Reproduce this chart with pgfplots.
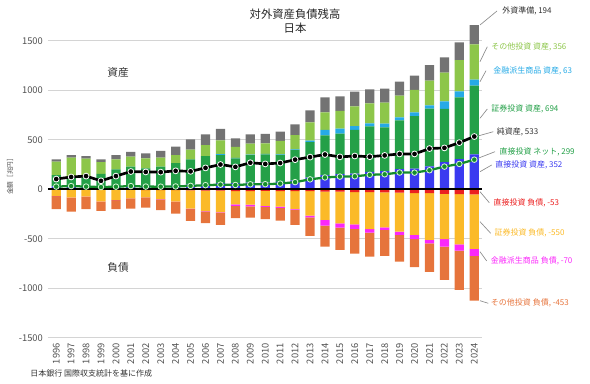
\documentclass[border=0pt]{standalone}
\usepackage{pgfplots}
\usepackage{pgfplotstable}
\pgfplotsset{compat=1.18}
\usepackage{fontspec}
\setmainfont{Noto Sans CJK JP}
\definecolor{cRes}{RGB}{115,115,115}
\definecolor{cOthA}{RGB}{141,198,74}
\definecolor{cDerA}{RGB}{38,170,230}
\definecolor{cSecA}{RGB}{36,160,72}
\definecolor{cDIA}{RGB}{58,58,240}
\definecolor{cDIL}{RGB}{235,32,32}
\definecolor{cSecL}{RGB}{251,186,40}
\definecolor{cDerL}{RGB}{250,40,250}
\definecolor{cOthL}{RGB}{230,116,60}
\definecolor{cNetDI}{RGB}{20,140,45}
\definecolor{cGrid}{RGB}{212,212,212}
\definecolor{cTick}{RGB}{80,80,80}
\definecolor{cLead}{RGB}{140,140,140}

\pgfplotstableread{
year DIA SecA DerA OthA Res DIL SecL DerL OthL Net DINet
1996 30 114 0 135 24 -3 -64 -2 -133 103 27
1997 35 92 0 192 27 -3 -82 -2 -138 124 32
1998 30 97 0 182 27 -3 -71 -2 -126 133 27
1999 25 130 0 118 30 -5 -120 -2 -92 85 22
2000 32 170 0 101 43 -6 -102 -2 -92 133 26
2001 39 189 0 101 48 -7 -84 -2 -103 179 32
2002 36 176 0 101 50 -9 -72 -2 -103 175 27
2003 35 193 0 91 68 -9 -92 -2 -109 173 26
2004 38 225 0 83 84 -10 -115 -2 -119 186 28
2005 46 255 0 100 104 -12 -185 -4 -119 181 34
2006 54 282 0 111 108 -13 -206 -4 -120 216 41
2007 62 284 8 141 114 -15 -219 -4 -122 250 47
2008 61 251 6 109 88 -18 -134 -17 -124 226 43
2009 68 276 6 111 94 -18 -137 -17 -115 268 50
2010 68 284 6 106 95 -17 -152 -8 -126 256 51
2011 75 272 6 135 94 -18 -158 -12 -129 265 57
2012 90 307 7 144 108 -18 -181 -6 -156 299 72
2013 118 357 16 186 121 -18 -249 -16 -189 325 100
2014 142 403 54 179 151 -23 -287 -58 -212 351 119
2015 152 410 50 179 148 -24 -320 -44 -225 327 128
2016 159 440 40 199 148 -28 -326 -47 -249 336 131
2017 175 461 30 202 142 -29 -375 -34 -243 329 146
2018 182 444 37 212 141 -31 -353 -27 -263 342 151
2019 203 494 30 219 141 -34 -394 -34 -269 357 169
2020 208 532 38 225 144 -40 -422 -43 -283 357 168
2021 232 582 34 249 158 -40 -472 -34 -289 411 192
2022 275 536 78 289 155 -46 -459 -75 -336 418 229
2023 305 624 61 316 179 -49 -507 -64 -397 471 256
2024 352 694 63 356 194 -53 -550 -70 -453 533 299
}\data

\pgfplotsset{
  base/.style={
    at={(0,0)}, anchor=south west, scale only axis,
    width=325.3pt, height=237.5pt,
    xmin=1995.45, xmax=2024.5, ymin=-1500, ymax=1700,
    clip=false,
  },
}

\begin{document}
\begin{tikzpicture}
\useasboundingbox (-36pt,-34.725pt) rectangle (406.5pt,253.275pt);

% axis 1: grid, ticks, positive stacks
\begin{axis}[base,
  ybar stacked, bar width=0.62,
  axis line style={draw=none}, major tick style={draw=none},
  ytick={-1500,-1000,-500,0,500,1000,1500},
  yticklabels={-1500,-1000,-500,0,500,1000,1500},
  ymajorgrids, grid style={draw=cGrid, line width=0.8pt},
  xtick={1996,1997,1998,1999,2000,2001,2002,2003,2004,2005,2006,2007,2008,2009,2010,2011,2012,2013,2014,2015,2016,2017,2018,2019,2020,2021,2022,2023,2024},
  xticklabels={1996,1997,1998,1999,2000,2001,2002,2003,2004,2005,2006,2007,2008,2009,2010,2011,2012,2013,2014,2015,2016,2017,2018,2019,2020,2021,2022,2023,2024},
  tick label style={font=\fontsize{7pt}{7pt}\selectfont, text=cTick},
  yticklabel style={anchor=east, inner xsep=3.7pt, inner ysep=0pt},
  xticklabel style={rotate=90, anchor=east, inner xsep=4pt, inner ysep=0pt},
]
\addplot[fill=cDIA, draw=none] table[x=year,y=DIA]{\data};
\addplot[fill=cSecA, draw=none] table[x=year,y=SecA]{\data};
\addplot[fill=cDerA, draw=none] table[x=year,y=DerA]{\data};
\addplot[fill=cOthA, draw=none] table[x=year,y=OthA]{\data};
\addplot[fill=cRes, draw=none] table[x=year,y=Res]{\data};
\end{axis}

% axis 2: negative stacks
\begin{axis}[base, hide axis, ybar stacked, bar width=0.62]
\addplot[fill=cDIL, draw=none] table[x=year,y=DIL]{\data};
\addplot[fill=cSecL, draw=none] table[x=year,y=SecL]{\data};
\addplot[fill=cDerL, draw=none] table[x=year,y=DerL]{\data};
\addplot[fill=cOthL, draw=none] table[x=year,y=OthL]{\data};
\end{axis}

% axis 3: zero line and lines
\begin{axis}[base, hide axis]
\draw[black, line width=1.2pt] (axis cs:1995.45,0) -- (axis cs:2024.5,0);
\addplot[color=cNetDI, line width=1.7pt, mark=*, mark size=2.1pt,
  mark options={fill=cNetDI, draw={rgb,255:red,215;green,245;blue,215}, line width=0.6pt}]
  table[x=year,y=DINet]{\data};
\addplot[color=black, line width=2pt, mark=*, mark size=2.2pt,
  mark options={fill=black, draw=white, line width=0.6pt}]
  table[x=year,y=Net]{\data};
\end{axis}

% text in pixel coordinates of the reference (origin top-left)
\begin{scope}[shift={(-36pt,253.275pt)}, x=0.75pt, y=-0.75pt,
  lead/.style={draw=cLead, line width=0.5pt},
  lab/.style={anchor=west, inner sep=0pt, font=\fontsize{6pt}{6pt}\selectfont}]
\node[font=\fontsize{8.5pt}{9pt}\selectfont, text=black!85] at (295,14) {対外資産負債残高};
\node[font=\fontsize{8.5pt}{9pt}\selectfont, text=black!85] at (295,28) {日本};
\node[font=\fontsize{8pt}{9pt}\selectfont, text=black!80] at (118,72) {資産};
\node[font=\fontsize{8pt}{9pt}\selectfont, text=black!80] at (118,267.5) {負債};
\node[rotate=90, font=\fontsize{5pt}{6pt}\selectfont, text=cTick] at (10,175) {金額［兆円］};
\node[anchor=west, inner sep=0pt, font=\fontsize{6pt}{7pt}\selectfont, text=black!80] at (30,373) {日本銀行 国際収支統計を基に作成};

\draw[lead] (480,25) -- (497,11); \node[lab, text=black!80] at (502,11) {外資準備, 194};
\draw[lead] (480,61.7) -- (487.3,46.7); \node[lab, text=cOthA] at (491,47) {その他投資 資産, 356};
\draw[lead] (480,81.7) -- (486,70.7); \node[lab, text=cDerA] at (493,71) {金融派生商品 資産, 63};
\draw[lead] (480,118.3) -- (487.3,109); \node[lab, text=cSecA] at (491,109) {証券投資 資産, 694};
\draw[lead] (478,136) -- (493.3,131.7); \node[lab, text=black!80] at (496.7,131.7) {純資産, 533};
\draw[lead] (478,158.3) -- (495,151.7); \node[lab, text=cSecA] at (499.3,152) {直接投資 ネット, 299};
\draw[lead] (480,171.7) -- (491.7,165); \node[lab, text=cDIA] at (495,165) {直接投資 資産, 352};
\draw[lead] (480,191.7) -- (489.3,202.7); \node[lab, text=cDIL] at (493.3,202.7) {直接投資 負債, -53};
\draw[lead] (480,221.7) -- (490.7,233.3); \node[lab, text=cSecL] at (494.3,233.3) {証券投資 負債, -550};
\draw[lead] (480,251.7) -- (486.7,261); \node[lab, text=cDerL] at (490.7,261) {金融派生商品 負債, -70};
\draw[lead] (480,300.7) -- (488.3,303.3); \node[lab, text=cOthL] at (490.7,303.3) {その他投資 負債, -453};
\end{scope}
\end{tikzpicture}
\end{document}
